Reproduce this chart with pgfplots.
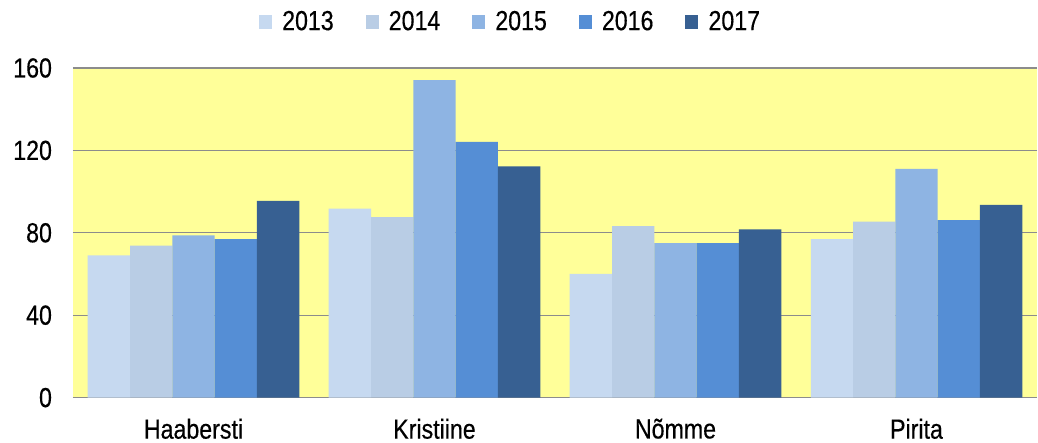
\documentclass[border=0pt]{standalone}
\usepackage{fontspec}
\setmainfont{Liberation Sans}[FakeStretch=0.84,FakeBold=0.4]
\usepackage{pgfplots}
\pgfplotsset{compat=1.18}
\definecolor{c13}{HTML}{C6D9F0}
\definecolor{c14}{HTML}{B9CDE5}
\definecolor{c15}{HTML}{8EB4E3}
\definecolor{c16}{HTML}{558ED5}
\definecolor{c17}{HTML}{376092}
\definecolor{bgy}{HTML}{FFFF99}
\definecolor{gridc}{HTML}{8C8C8C}
\begin{document}
\begin{tikzpicture}
\begin{axis}[name=ax, scale only axis, width=482pt, height=164.8pt,
  ybar=0pt, bar width=21.15pt,
  xmin=-0.5, xmax=3.5, ymin=0, ymax=160,
  xtick={0,1,2,3}, xticklabels={Haabersti,Kristiine,Nõmme,Pirita},
  ytick={0,40,80,120,160},
  ymajorgrids, grid style={gridc, line width=0.6pt},
  axis line style={draw=none}, major tick length=0pt,
  tick label style={font=\fontsize{13.8}{16}\selectfont},
  /pgf/number format/assume math mode=true,
  axis background/.style={fill=bgy},
  yticklabel style={xshift=-7pt},
  xticklabel style={yshift=-7pt},
  legend style={at={(0.455,1.1395)}, anchor=center, draw=none, fill=none,
    legend columns=5, font=\fontsize{13.8}{16}\selectfont,
    /tikz/every odd column/.append style={column sep=3pt},
    /tikz/every even column/.append style={column sep=14pt}},
  legend image code/.code={\fill[#1] (0pt,-3.3pt) rectangle (6.5pt,3.3pt);},
]
\addplot[fill=c13, draw=none] coordinates {(0,69) (1,91.7) (2,60) (3,76.9)};
\addplot[fill=c14, draw=none] coordinates {(0,73.8) (1,87.6) (2,83.2) (3,85.4)};
\addplot[fill=c15, draw=none] coordinates {(0,78.7) (1,154.1) (2,75) (3,111)};
\addplot[fill=c16, draw=none] coordinates {(0,76.9) (1,124.1) (2,75) (3,86.1)};
\addplot[fill=c17, draw=none] coordinates {(0,95.5) (1,112.3) (2,81.7) (3,93.5)};
\legend{2013,2014,2015,2016,2017}
\end{axis}
\pgfresetboundingbox
\path ([xshift=-36.5pt,yshift=-22.65pt]ax.south west) rectangle ([xshift=0.5pt,yshift=34pt]ax.north east);
\end{tikzpicture}
\end{document}
